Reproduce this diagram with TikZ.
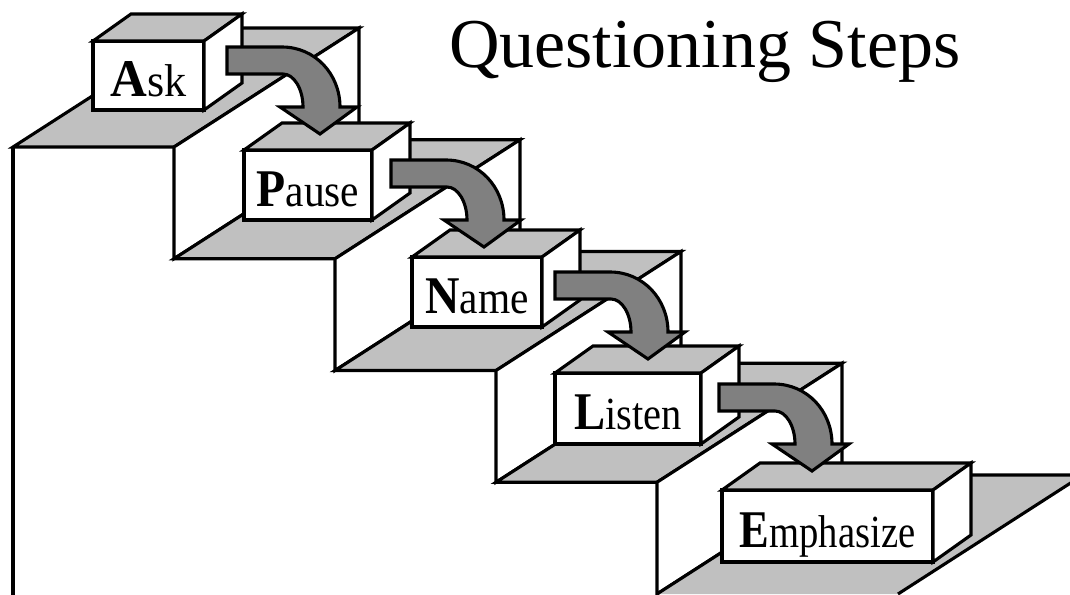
\documentclass[tikz,border=0pt]{standalone}
\usepackage{fontspec}
\usepackage{graphicx}
\setmainfont{Liberation Serif}
\usetikzlibrary{positioning}

\definecolor{stairgray}{HTML}{C0C0C0}
\definecolor{arrowgray}{HTML}{808080}

% first letter bold and larger, word squeezed to fit its box
\newcommand{\stepword}[3][1]{\scalebox{#1}[1]{{\fontsize{53}{53}\selectfont\bfseries #2}{\fontsize{46}{46}\selectfont #3}}}

\begin{document}
\begin{tikzpicture}[
    x=1pt, y=-1pt,
    line width=3.1pt,
    every node/.style={inner sep=0pt, outer sep=0pt},
    tread/.style={draw, fill=stairgray},
    riser/.style={draw, fill=white},
    stepbox/.style={draw, fill=white, anchor=south west, minimum height=70pt,
        text height=42pt, text depth=0pt},
    turn/.style={draw, fill=arrowgray}
]
    \useasboundingbox (0,0) rectangle (1070,594);
    \clip (0,0) rectangle (1070,594);

    % the stairs
    \foreach \k in {0,...,3} {
        \pgfmathsetmacro\sx{13+161*\k}
        \pgfmathsetmacro\sy{147+111.75*\k}
        \draw[tread] (\sx,\sy) -- ++(161,0) -- ++(185,-119) -- ++(-161,0) -- cycle;
        \draw[riser] (\sx+161,\sy) -- ++(185,-119) -- ++(0,111.75) -- ++(-185,119) -- cycle;
    }
    \fill[stairgray] (657,594) -- ++(241,0) -- ++(185,-119) -- ++(-241,0) -- cycle;
    \draw (657,594) -- ++(185,-119) -- ++(241,0) -- ++(-185,119);
    \draw (13,147) -- (13,600);

    % the boxes
    \node[stepbox, minimum width=111pt, minimum height=69pt] (askbox) at (93,110) {\stepword[0.96]{A}{sk}};
    \node[stepbox, minimum width=128pt] (pausebox) at (244,220) {\stepword[0.9]{P}{ause}};
    \node[stepbox, minimum width=130pt] (namebox) at (412,327) {\stepword[0.9]{N}{ame}};
    \node[stepbox, minimum width=146pt, minimum height=71pt] (listenbox) at (555,444) {\stepword[0.88]{L}{isten}};
    \node[stepbox, minimum width=211pt, minimum height=72pt] (emphbox) at (722,562) {\stepword[0.84]{E}{mphasize}};

    \foreach \b in {askbox,pausebox,namebox,listenbox,emphbox} {
        \draw[tread] (\b.north west) -- ++(38,-27) -- ([shift={(38,-27)}]\b.north east) -- (\b.north east) -- cycle;
        \draw[riser] (\b.north east) -- ++(38,-27) -- ([shift={(38,-27)}]\b.south east) -- (\b.south east) -- cycle;
    }

    % the turning arrows
    \foreach \x/\y in {227/47, 391/160, 555/272, 719/384}
        \draw[turn, shift={(\x,\y)}] (0,0) -- (55,0) .. controls (88,0) and (113,27) .. (113,60)
            -- (130,60) -- (93,87) -- (53,60) -- (76,60) .. controls (76,42) and (67,27) .. (56,27)
            -- (0,27) -- cycle;

    \node[anchor=base west, font=\fontsize{70}{70}\selectfont] (title) at (449,67) {Questioning Steps};
\end{tikzpicture}
\end{document}
